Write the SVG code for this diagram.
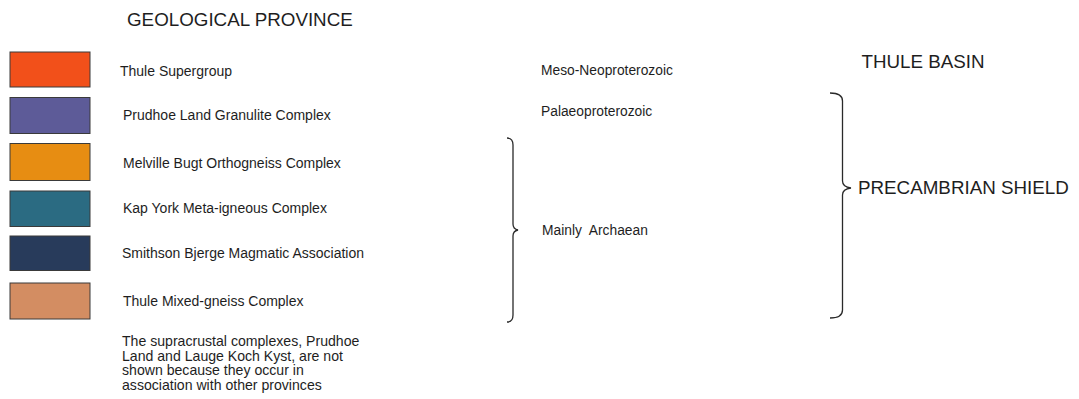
<svg xmlns="http://www.w3.org/2000/svg" width="1079" height="399" viewBox="0 0 1079 399">
<style>
text{font-family:"Liberation Sans",Arial,sans-serif;fill:#1e1e1e}
.h{font-size:18.8px}
.l{font-size:14px}
.n{font-size:13.8px}
.t{font-size:14.1px}
.sw{stroke:#3a3a3a;stroke-width:1}
.br{fill:none;stroke:#2a2a2a;stroke-width:1.3}
</style>
<rect width="1079" height="399" fill="#fff"/>
<text id="title" class="h" x="127" y="26">GEOLOGICAL PROVINCE</text>
<g id="thule-supergroup"><rect class="sw" x="10" y="52" width="80" height="35" fill="#f2501a"/><text class="l" x="120" y="76">Thule Supergroup</text></g>
<g id="prudhoe"><rect class="sw" x="10" y="97.5" width="80" height="36" fill="#5d5b98"/><text class="l" x="123" y="120">Prudhoe Land Granulite Complex</text></g>
<g id="melville"><rect class="sw" x="10" y="143.5" width="80" height="37" fill="#e78d12"/><text class="l" x="123" y="167.5">Melville Bugt Orthogneiss Complex</text></g>
<g id="kapyork"><rect class="sw" x="10" y="191" width="80" height="35.5" fill="#2b6b82"/><text class="l" x="123" y="213">Kap York Meta-igneous Complex</text></g>
<g id="smithson"><rect class="sw" x="10" y="236" width="80" height="34.5" fill="#283b5b"/><text class="l" x="122" y="257.5">Smithson Bjerge Magmatic Association</text></g>
<g id="thule-mixed"><rect class="sw" x="10" y="283" width="80" height="36" fill="#d38d62"/><text class="l" x="123" y="305.5">Thule Mixed-gneiss Complex</text></g>
<g id="note"><text class="t"><tspan x="122" y="345.5">The supracrustal complexes, Prudhoe</tspan><tspan x="122" y="360.5">Land and Lauge Koch Kyst, are not</tspan><tspan x="122" y="375">shown because they occur in</tspan><tspan x="122" y="389.5">association with other provinces</tspan></text></g>
<g id="meso"><text class="n" x="541" y="75">Meso-Neoproterozoic</text></g>
<g id="palaeo"><text class="n" x="541" y="116">Palaeoproterozoic</text></g>
<g id="archaean"><text class="n" x="542" y="235" xml:space="preserve">Mainly  Archaean</text></g>
<g id="thule-basin"><text class="h" x="861.5" y="68">THULE BASIN</text></g>
<g id="precambrian"><text class="h" x="858" y="194">PRECAMBRIAN SHIELD</text></g>
<g id="connectors">
<path class="br" d="M507,138 Q513,138 513,145 L513,224 Q513,229 518,230 Q513,231 513,236 L513,315 Q513,322 507,322"/>
<path class="br" d="M830,93 Q842.5,93 842.5,101 L842.5,181 Q842.5,187 851,188 Q842.5,189 842.5,195 L842.5,310 Q842.5,318 830,318"/>
</g>
</svg>
